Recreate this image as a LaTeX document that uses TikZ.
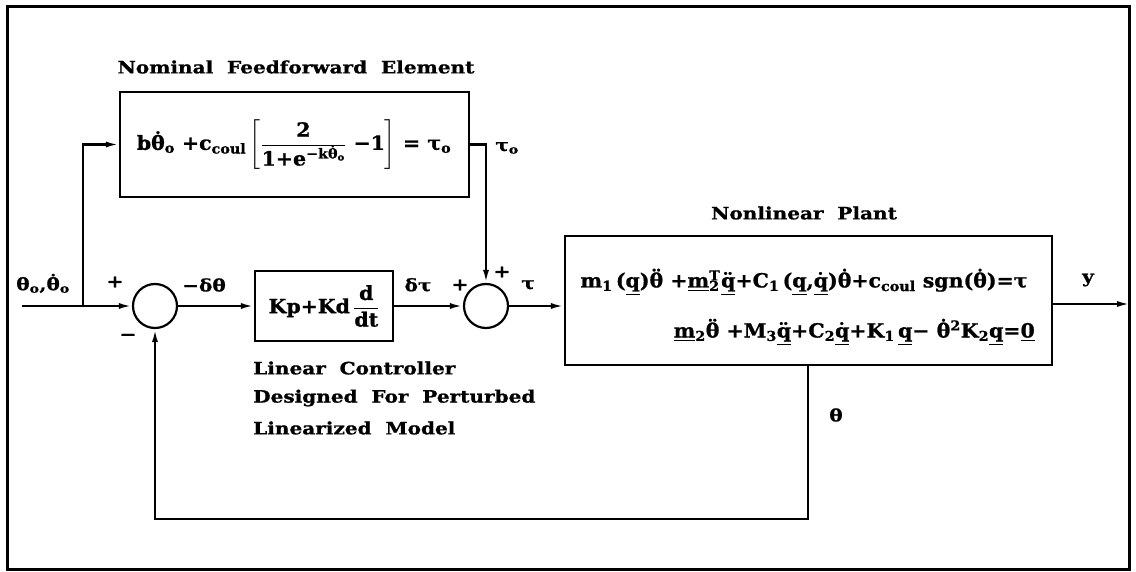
\documentclass[tikz,border=0pt]{standalone}
\usepackage{fix-cm}
\usepackage{amsmath}
\usepackage{fontspec}
\usetikzlibrary{arrows.meta}
\newfontfamily\lf{DejaVu Serif}[FakeStretch=1.18,FakeBold=1]
\newfontfamily\ef{DejaVu Serif}[FakeStretch=1.05,FakeBold=1]
\newcommand\accover[2]{{\ooalign{#2\cr\hidewidth\raisebox{0.17em}{#1}\hidewidth\cr}}}
\newcommand\thd{\accover{^^^^02d9}{θ}}
\newcommand\thdd{\accover{^^^^00a8}{θ}}
\newcommand\qdd{\underline{q^^^^0308}}
\newcommand\qd{\underline{q^^^^0307}}
\newcommand\uq{\underline{q}}
\begin{document}
\begin{tikzpicture}[x=1pt,y=-1pt,
  box/.style={draw, line width=2.2pt, inner sep=0pt},
  sumc/.style={draw, circle, line width=2.2pt, minimum size=44pt, inner sep=0pt},
  lab/.style={font=\lf\bfseries\fontsize{17}{20}\selectfont, inner sep=0pt},
  eq/.style={font=\ef\bfseries\fontsize{19.5}{22}\selectfont, inner sep=0pt},
  wire/.style={line width=2.2pt},
  arr/.style={wire, -{Latex[length=13pt,width=6pt]}}]
\path[use as bounding box] (0,0) rectangle (1136,572);
\draw[line width=3pt] (7,7) rectangle (1129,569);
% blocks
\node[box, minimum width=349pt, minimum height=105pt] (ff) at (294.5,144.5) {};
\node[eq] (ffeq) at (294,145) {b\thd\textsubscript{o} +c\textsubscript{coul}\,$\left[\dfrac{\text{2}}{\text{1+e\textsuperscript{−k\thd\textsubscript{o}}}}\ \text{−1}\right]$ = τ\textsubscript{o}};
\node[lab] (fft) at (296,67) {Nominal\hspace{0.4em} Feedforward\hspace{0.4em} Element};
\node[box, eq, minimum width=138pt, minimum height=70pt] (ctrl) at (324,306) {Kp+Kd\,$\dfrac{\text{d}}{\text{dt}}$};
\node[sumc] (s1) at (155,306) {};
\node[sumc] (s2) at (486,306) {};
\node[box, minimum width=487pt, minimum height=129pt] (plant) at (808.5,300.5) {};
\node[eq] (eq1) at (804,283) {m\textsubscript{1}\,(\uq)\thdd\ +\underline{m}\rlap{\textsuperscript{T}}\textsubscript{2}\kern1.5pt\qdd+C\textsubscript{1}\,(\uq,\qd)\thd+c\textsubscript{coul} sgn(\thd)=τ};
\node[eq, anchor=east] (eq2) at (1035,333) {\underline{m}\textsubscript{2}\thdd\ +M\textsubscript{3}\qdd+C\textsubscript{2}\qd+K\textsubscript{1}\,\uq−\ \thd\textsuperscript{2}K\textsubscript{2}\uq=\underline{0}};
\node[lab] (pt) at (804,213) {Nonlinear\hspace{0.4em} Plant};
\node[lab, anchor=west] (lc1) at (253,368) {Linear\hspace{0.4em} Controller};
\node[lab, anchor=west] (lc2) at (253,398) {Designed\hspace{0.4em} For\hspace{0.4em} Perturbed};
\node[lab, anchor=west] (lc3) at (253,428) {Linearized\hspace{0.4em} Model};
% signal labels
\node[lab] (lin) at (43,285) {θ\textsubscript{o},\thd\textsubscript{o}};
\node[lab] (p1) at (115,282) {+};
\node[lab] (m1) at (128,337) {−};
\node[lab] (ldt) at (204,285) {−δθ};
\node[lab] (ldtau) at (418,285) {δτ};
\node[lab] (p2) at (460,285) {+};
\node[lab] (p3) at (502,272) {+};
\node[lab] (ltau) at (528,285) {τ};
\node[lab] (ltau0) at (507,148) {τ\textsubscript{o}};
\node[lab] (ly) at (1088,280) {y};
\node[lab] (lth) at (836,415) {θ};
% connectors
\coordinate (in) at (22,306);
\coordinate (br) at (83,306);
\coordinate (out) at (1130,304);
\coordinate (fb) at (808,519);
\draw[arr] (in) -- (s1.west);
\draw[arr] (br) |- (ff.west);
\draw[arr] (ff.east) -| (s2.north);
\draw[arr] (s1.east) -- (ctrl.west);
\draw[arr] (ctrl.east) -- (s2.west);
\draw[arr] (s2.east) -- (s2.east -| plant.west);
\draw[arr] (plant.east |- out) -- (out);
\draw[arr] (plant.south -| fb) -- (fb) -| (s1.south);
\end{tikzpicture}
\end{document}
